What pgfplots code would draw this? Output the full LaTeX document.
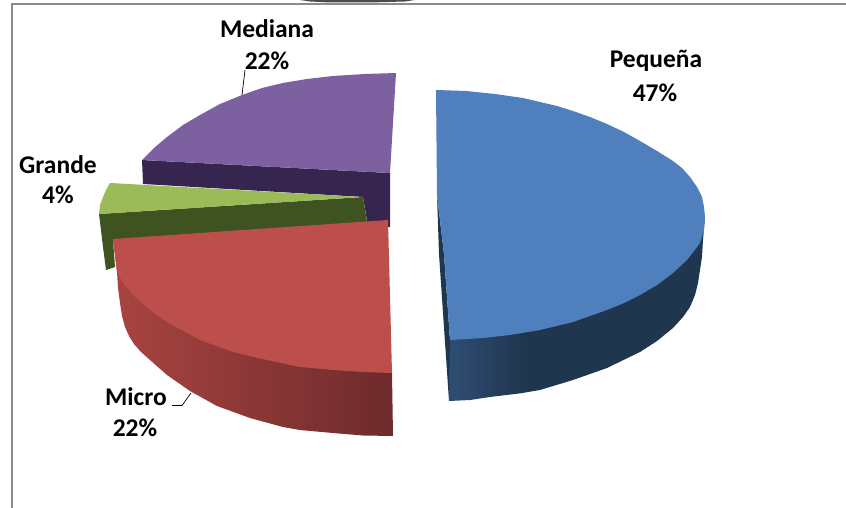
\documentclass[border=0pt]{standalone}
\usepackage{fontspec}
\setmainfont{Carlito}
\usepackage{pgfplots}
\pgfplotsset{compat=1.18}

\definecolor{bluetop}{HTML}{4F7FBC}
\definecolor{blueL}{HTML}{2F4D74}
\definecolor{blueR}{HTML}{20364F}
\definecolor{redtop}{HTML}{BC4F4C}
\definecolor{redL}{HTML}{A94441}
\definecolor{redM}{HTML}{933C3A}
\definecolor{redR}{HTML}{6E2A2C}
\definecolor{greentop}{HTML}{9BBB59}
\definecolor{greenside}{HTML}{3F5320}
\definecolor{purpletop}{HTML}{7D60A0}
\definecolor{purpleside}{HTML}{35254F}
\definecolor{frame}{HTML}{8C8C8C}

\begin{document}
\begin{tikzpicture}
\useasboundingbox (0,0) rectangle (846pt,508pt);
\begin{axis}[
  hide axis, scale only axis,
  width=846pt, height=508pt,
  xmin=0, xmax=846, ymin=0, ymax=508, y dir=reverse,
  every axis plot/.append style={draw=none, forget plot},
]
% chart frame
\addplot[draw=frame, line width=2pt] coordinates {(12,508) (12,4.5) (846,4.5)};
\addplot[fill=black!70] coordinates {(300,0) (415,0) (405,1.5) (370,2.5) (330,2.5) (310,1.5)};

% Mediana
\addplot[fill=purpleside] coordinates {(142,160) (390,173) (390,227) (368,227) (363,197) (143,184)};
\addplot[fill=purpletop] coordinates {
  (396,73) (365,74) (333,76) (307,79) (283,83) (262,88) (242,95) (220,104) (200,115)
  (183,125) (167,137) (154,148) (142,160) (390,173)};

% Grande
\addplot[fill=greenside] coordinates {(99,214) (363,197) (367,222) (113,240) (115,267) (106,270) (103,247)};
\addplot[fill=greentop] coordinates {(110,183) (106,190) (103,197) (100,205) (99,214) (363,197)};

% Micro
\addplot[shading=axis, shading angle=90, left color=redL, middle color=redM, right color=redR] coordinates {
  (113,239) (117,272) (118,288) (120,303) (122,316) (125,327) (129,336) (134,344) (141,352)
  (150,360) (167,375) (190,391) (217,406) (250,418) (283,427) (300,430) (333,433) (363,435.5) (393,436)
  (392,373)};
\addplot[fill=redtop] coordinates {
  (113,239) (388,220) (392,373) (362,372) (333,370) (300,367) (267,360) (233,352) (200,340)
  (167,322) (150,310) (133,295) (124,284) (117,272) (115,255)};

% Pequena
\addplot[shading=axis, shading angle=90, left color=blueL, right color=blueR] coordinates {
  (450,340) (449,401) (470,400) (490,397) (523,393) (523,330)};
\addplot[fill=blueR] coordinates {
  (522,330) (522,393) (540,390) (573,380) (607,368) (640,352) (657,341) (673,328) (683,317)
  (690,307) (695,295) (698,283) (700,270) (702,257) (703,240) (705,217)};
\addplot[fill=blueR] coordinates {(437,195) (444,254) (450,340) (449,401) (439,254)};
\addplot[fill=bluetop] coordinates {
  (436,90) (466,91) (495,94) (523,98) (540,102) (557,106) (573,111) (590,117) (607,124)
  (624,132) (640,141) (657,151) (673,161) (682,168) (690,177) (697,187) (702,197) (704,207)
  (705,217) (704,230) (700,243) (694,251) (687,260) (673,273) (657,285) (640,295) (624,303)
  (607,310) (590,316) (573,322) (540,330) (510,335) (483,338) (450,340) (444,254) (437,195)};

% leader lines
\addplot[draw=black, line width=0.7pt] coordinates {(245,70) (242,95)};
\addplot[draw=black, line width=0.7pt] coordinates {(172,405.5) (182,405.5) (191,393)};

% labels
\begin{scope}[every node/.style={font=\fontsize{25.5}{25.5}\selectfont\bfseries, text=black, inner sep=0pt, anchor=center}]
\node at (axis cs:267,29) {Mediana};
\node at (axis cs:267,61) {22\%};
\node at (axis cs:656,61) {Pequeña};
\node at (axis cs:655,93) {47\%};
\node at (axis cs:58,165) {Grande};
\node at (axis cs:58,195) {4\%};
\node at (axis cs:136,397) {Micro};
\node at (axis cs:135,428) {22\%};
\end{scope}
\end{axis}
\end{tikzpicture}
\end{document}
